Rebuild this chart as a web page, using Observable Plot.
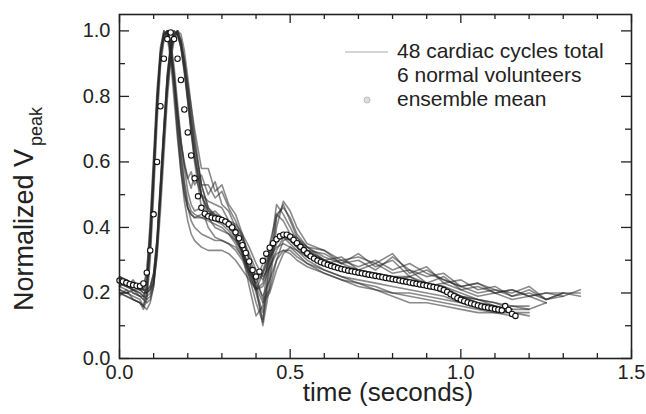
<!DOCTYPE html>
<html><head><meta charset="utf-8">
<script src="https://cdn.jsdelivr.net/npm/d3@7"></script>
<script src="https://cdn.jsdelivr.net/npm/@observablehq/plot@0.6"></script>
<style>body{margin:0;background:#fff} svg{display:block}</style>
</head><body><div id="chart"></div>
<script>
// time grid (seconds) for the individual cardiac cycles
const cycleTime = [0.00,0.02,0.04,0.06,0.07,0.08,0.09,0.10,0.11,0.12,
  0.13,0.14,0.15,0.16,0.17,0.18,0.19,0.20,0.21,0.22,
  0.24,0.26,0.28,0.30,0.32,0.34,0.36,0.38,0.40,0.42,
  0.44,0.46,0.48,0.50,0.52,0.55,0.60,0.65,0.70,0.75,
  0.80,0.85,0.90,0.95,1.00,1.05,1.10,1.15,1.20,1.25,
  1.30,1.35];

const cycleA1 = [0.24,0.23,0.22,0.21,0.21,0.26,0.42,0.62,0.82,0.95, 1.00,0.98,0.91,0.79,0.67,0.57,0.50,0.46,0.44,0.43, 0.43,0.43,0.42,0.41,0.39,0.36,0.32,0.27,0.24,0.29, 0.34,0.37,0.38,0.36,0.34,0.31,0.29,0.27,0.26,0.25, 0.24,0.23,0.22,0.20,0.18,0.17,0.15,0.14];
const cycleA2 = [0.20,0.19,0.18,0.17,0.16,0.19,0.33,0.53,0.75,0.91, 0.98,1.00,0.95,0.85,0.73,0.62,0.53,0.46,0.42,0.40, 0.38,0.37,0.36,0.36,0.35,0.33,0.30,0.25,0.21,0.26, 0.31,0.34,0.35,0.34,0.32,0.29,0.27,0.25,0.24,0.23, 0.22,0.21,0.20,0.19,0.17,0.16,0.15,0.14,0.14];
const cycleA3 = [0.22,0.24,0.20,0.19,0.18,0.23,0.38,0.58,0.79,0.93, 0.99,1.00,0.96,0.87,0.76,0.66,0.59,0.55,0.57,0.53, 0.56,0.50,0.54,0.47,0.45,0.40,0.33,0.25,0.17,0.11, 0.31,0.47,0.44,0.40,0.36,0.34,0.30,0.31,0.27,0.29, 0.26,0.27,0.23,0.25,0.21,0.22,0.20,0.21,0.19,0.20, 0.20];
const cycleA4 = [0.23,0.22,0.21,0.20,0.19,0.22,0.35,0.55,0.77,0.92, 0.99,1.00,0.94,0.83,0.70,0.59,0.51,0.46,0.44,0.43, 0.44,0.44,0.43,0.42,0.40,0.37,0.33,0.28,0.25,0.27, 0.33,0.37,0.38,0.37,0.35,0.32,0.30,0.28,0.27,0.26, 0.25,0.25,0.23,0.22,0.19,0.17,0.16,0.15];
const cycleA5 = [0.21,0.20,0.19,0.18,0.16,0.21,0.36,0.57,0.78,0.93, 0.99,0.99,0.93,0.82,0.69,0.57,0.48,0.42,0.38,0.36, 0.34,0.33,0.33,0.33,0.32,0.30,0.27,0.24,0.21,0.22, 0.28,0.32,0.33,0.32,0.30,0.28,0.26,0.24,0.22,0.21, 0.20,0.20,0.19,0.18,0.17,0.16,0.15,0.16,0.15,0.17];
const cycleA6 = [0.25,0.24,0.23,0.22,0.22,0.27,0.40,0.60,0.80,0.94, 1.00,0.99,0.94,0.85,0.75,0.66,0.60,0.55,0.52,0.56, 0.50,0.48,0.47,0.46,0.42,0.38,0.32,0.22,0.13,0.16, 0.35,0.44,0.42,0.38,0.35,0.33,0.32,0.29,0.30,0.27, 0.31,0.27,0.25,0.26,0.22,0.23,0.21,0.20,0.22,0.18, 0.20,0.20];
const cycleB1 = [0.24,0.23,0.22,0.22,0.21,0.21,0.22,0.26,0.36,0.52, 0.70,0.86,0.96,1.00,0.99,0.95,0.88,0.79,0.70,0.62, 0.50,0.45,0.43,0.43,0.42,0.40,0.37,0.32,0.27,0.24, 0.30,0.35,0.38,0.38,0.36,0.33,0.30,0.28,0.27,0.26, 0.25,0.24,0.23,0.21,0.19,0.17,0.16,0.14];
const cycleB2 = [0.22,0.21,0.20,0.19,0.19,0.18,0.19,0.23,0.33,0.49, 0.66,0.82,0.93,0.98,1.00,0.97,0.91,0.83,0.74,0.66, 0.53,0.46,0.44,0.43,0.41,0.38,0.33,0.27,0.20,0.12, 0.25,0.43,0.47,0.42,0.37,0.33,0.30,0.28,0.27,0.25, 0.24,0.25,0.22,0.23,0.21,0.19,0.20,0.18,0.19,0.17];
const cycleB3 = [0.20,0.19,0.18,0.17,0.16,0.15,0.17,0.22,0.34,0.51, 0.68,0.84,0.94,0.98,0.99,0.95,0.88,0.79,0.69,0.60, 0.46,0.40,0.37,0.36,0.35,0.34,0.31,0.27,0.23,0.19, 0.24,0.30,0.33,0.33,0.31,0.29,0.26,0.24,0.23,0.21, 0.19,0.17,0.17,0.16,0.15,0.14,0.14,0.13];
const cycleB4 = [0.23,0.22,0.24,0.21,0.20,0.20,0.21,0.25,0.36,0.53, 0.70,0.86,0.95,0.99,1.00,0.97,0.91,0.84,0.77,0.70, 0.58,0.58,0.51,0.53,0.47,0.44,0.38,0.30,0.22,0.10, 0.22,0.40,0.48,0.45,0.40,0.35,0.33,0.29,0.32,0.28, 0.30,0.25,0.27,0.24,0.22,0.23,0.20,0.21,0.19,0.20, 0.19,0.21];
const cycleB5 = [0.23,0.22,0.21,0.21,0.20,0.20,0.22,0.26,0.37,0.54, 0.71,0.87,0.96,1.00,0.99,0.95,0.87,0.78,0.69,0.61, 0.50,0.45,0.44,0.43,0.42,0.41,0.38,0.34,0.29,0.25, 0.28,0.33,0.37,0.38,0.37,0.34,0.31,0.29,0.27,0.26, 0.25,0.24,0.23,0.22,0.20,0.18,0.17,0.15];
const cycleB6 = [0.24,0.23,0.22,0.21,0.21,0.20,0.21,0.23,0.31,0.45, 0.62,0.79,0.91,0.97,1.00,0.99,0.94,0.86,0.77,0.68, 0.53,0.46,0.43,0.42,0.41,0.39,0.36,0.31,0.25,0.18, 0.21,0.30,0.36,0.37,0.35,0.32,0.29,0.27,0.26,0.25, 0.24,0.23,0.22,0.21,0.19,0.18,0.17,0.16,0.16];
const cycleC1 = [0.19,0.21,0.18,0.17,0.15,0.18,0.30,0.50,0.72,0.89, 0.97,1.00,0.97,0.89,0.78,0.67,0.58,0.51,0.47,0.45, 0.46,0.44,0.45,0.43,0.41,0.37,0.32,0.26,0.21,0.23, 0.31,0.36,0.37,0.35,0.33,0.31,0.29,0.30,0.28,0.30, 0.27,0.29,0.26,0.24,0.22,0.20,0.21,0.19,0.20,0.18, 0.19];
const cycleC2 = [0.21,0.20,0.21,0.19,0.18,0.17,0.18,0.22,0.32,0.49, 0.66,0.82,0.93,0.99,1.00,0.97,0.91,0.82,0.72,0.63, 0.50,0.43,0.40,0.39,0.38,0.36,0.33,0.28,0.22,0.17, 0.20,0.27,0.32,0.34,0.33,0.30,0.27,0.25,0.23,0.22, 0.20,0.19,0.18,0.17,0.16,0.15,0.14,0.14,0.13];
const cycleC3 = [0.25,0.24,0.23,0.22,0.21,0.24,0.37,0.57,0.78,0.93, 0.99,1.00,0.96,0.86,0.74,0.63,0.54,0.48,0.45,0.44, 0.43,0.42,0.41,0.40,0.38,0.35,0.31,0.26,0.23,0.26, 0.32,0.36,0.37,0.36,0.34,0.31,0.29,0.27,0.26,0.25, 0.24,0.23,0.22,0.21,0.19,0.18,0.16,0.15,0.15];
const cycleC4 = [0.22,0.23,0.21,0.20,0.19,0.19,0.20,0.24,0.35,0.52, 0.69,0.85,0.95,0.99,0.99,0.96,0.89,0.81,0.73,0.65, 0.53,0.53,0.49,0.51,0.46,0.42,0.37,0.30,0.21,0.14, 0.28,0.44,0.46,0.43,0.38,0.34,0.33,0.30,0.31,0.29, 0.32,0.26,0.28,0.23,0.24,0.21,0.22,0.19,0.21,0.18, 0.20,0.19];

// ensemble mean, sampled every 0.01 s from 0
const meanStart = 0, meanStep = 0.01;
const meanValues = [0.238,0.235,0.231,0.227,0.224,0.222,0.221,0.229,0.262,0.330,
  0.440,0.600,0.770,0.915,0.975,0.995,0.975,0.915,0.850,0.760,
  0.690,0.620,0.550,0.495,0.460,0.442,0.434,0.430,0.428,0.426,
  0.423,0.418,0.410,0.400,0.385,0.367,0.346,0.322,0.296,0.270,
  0.250,0.265,0.298,0.320,0.338,0.352,0.364,0.373,0.378,0.378,
  0.372,0.362,0.352,0.341,0.331,0.321,0.312,0.305,0.299,0.294,
  0.290,0.286,0.282,0.279,0.276,0.273,0.271,0.268,0.266,0.264,
  0.262,0.260,0.258,0.256,0.254,0.252,0.250,0.248,0.246,0.244,
  0.242,0.240,0.238,0.236,0.234,0.232,0.230,0.228,0.226,0.224,
  0.222,0.220,0.218,0.216,0.213,0.209,0.203,0.196,0.190,0.184,
  0.179,0.175,0.171,0.168,0.165,0.162,0.159,0.157,0.155,0.153,
  0.151,0.149,0.147,0.160,0.148,0.136,0.130];

const xMajorTicks = [0, 0.5, 1.0, 1.5];
const xMinorTicks = [0.1,0.2,0.3,0.4,0.6,0.7,0.8,0.9,1.1,1.2,1.3,1.4];
const yMajorTicks = [0, 0.2, 0.4, 0.6, 0.8, 1.0];
const yMinorTicks = [0.1, 0.3, 0.5, 0.7, 0.9];
const legendLabels = ["48 cardiac cycles total", "6 normal volunteers", "ensemble mean"];
const xTitle = "time (seconds)";
const yTitle = "Normalized V";
const yTitleSub = "peak";

const cycles = [cycleA1, cycleA2, cycleA3, cycleA4, cycleA5, cycleA6,
                cycleB1, cycleB2, cycleB3, cycleB4, cycleB5, cycleB6,
                cycleC1, cycleC2, cycleC3, cycleC4];
const cycleRows = cycles.flatMap((c, k) => c.map((v, i) => ({id: k, t: cycleTime[i], v})));
const meanRows = meanValues.map((v, i) => ({t: meanStart + i * meanStep, v}));

const W = 646, H = 414, mL = 119, mR = 15, mT = 14, mB = 56;
const innerW = W - mL - mR, innerH = H - mT - mB;
const font = "'Liberation Sans', Arial, Helvetica, sans-serif";
const ink = "#222";

const chart = Plot.plot({
  width: W, height: H,
  marginLeft: mL, marginRight: mR, marginTop: mT, marginBottom: mB,
  x: {domain: [0, 1.5]},
  y: {domain: [0, 1.05]},
  style: {fontFamily: font, background: "#fff", color: ink},
  marks: [
    Plot.line(cycleRows, {x: "t", y: "v", z: "id", stroke: "#2a2a2a", strokeOpacity: 0.55, strokeWidth: 1.6}),
    Plot.dot(meanRows, {x: "t", y: "v", r: 2.7, fill: "white", stroke: "#111", strokeWidth: 1.1}),
    Plot.ruleX(xMajorTicks, {x: d => d, insetTop: innerH - 9, stroke: ink, strokeWidth: 1.3}),
    Plot.ruleX(xMinorTicks, {x: d => d, insetTop: innerH - 5, stroke: ink, strokeWidth: 1.3}),
    Plot.ruleX(xMajorTicks, {x: d => d, insetBottom: innerH - 9, stroke: ink, strokeWidth: 1.3}),
    Plot.ruleX(xMinorTicks, {x: d => d, insetBottom: innerH - 5, stroke: ink, strokeWidth: 1.3}),
    Plot.ruleY(yMajorTicks, {y: d => d, insetRight: innerW - 10, stroke: ink, strokeWidth: 1.3}),
    Plot.ruleY(yMinorTicks, {y: d => d, insetRight: innerW - 6, stroke: ink, strokeWidth: 1.3}),
    Plot.ruleY(yMajorTicks, {y: d => d, insetLeft: innerW - 10, stroke: ink, strokeWidth: 1.3}),
    Plot.ruleY(yMinorTicks, {y: d => d, insetLeft: innerW - 6, stroke: ink, strokeWidth: 1.3}),
    Plot.frame({stroke: ink, strokeWidth: 1.6}),
    Plot.axisX(xMajorTicks, {tickSize: 0, tickPadding: 6, fontSize: 20, tickFormat: d3.format(".1f"), label: null}),
    Plot.axisY(yMajorTicks, {tickSize: 0, tickPadding: 9, fontSize: 20, tickFormat: d3.format(".1f"), label: null})
  ]
});
document.getElementById("chart").appendChild(chart);

const svg = d3.select(chart);
// axis titles
svg.append("text").attr("x", 388).attr("y", 401).attr("text-anchor", "middle")
  .attr("font-family", font).attr("font-size", 26).attr("fill", ink).text(xTitle);
const yt = svg.append("text").attr("transform", "translate(33,311) rotate(-90)")
  .attr("text-anchor", "start")
  .attr("font-family", font).attr("font-size", 27).attr("fill", ink);
yt.append("tspan").text(yTitle);
yt.append("tspan").attr("font-size", 18).attr("dy", 9).attr("dx", 3).text(yTitleSub);

// legend
const lg = svg.append("g").attr("font-family", font).attr("font-size", 21)
  .attr("fill", ink).attr("text-anchor", "start");
lg.append("line").attr("x1", 345).attr("x2", 388).attr("y1", 52).attr("y2", 52)
  .attr("stroke", "#aaa").attr("stroke-width", 1.2);
lg.append("circle").attr("cx", 367).attr("cy", 100).attr("r", 3)
  .attr("fill", "#ddd").attr("stroke", "#bbb");
[58, 82, 106].forEach((y, i) => lg.append("text").attr("x", 397).attr("y", y).text(legendLabels[i]));
</script>
</body></html>
